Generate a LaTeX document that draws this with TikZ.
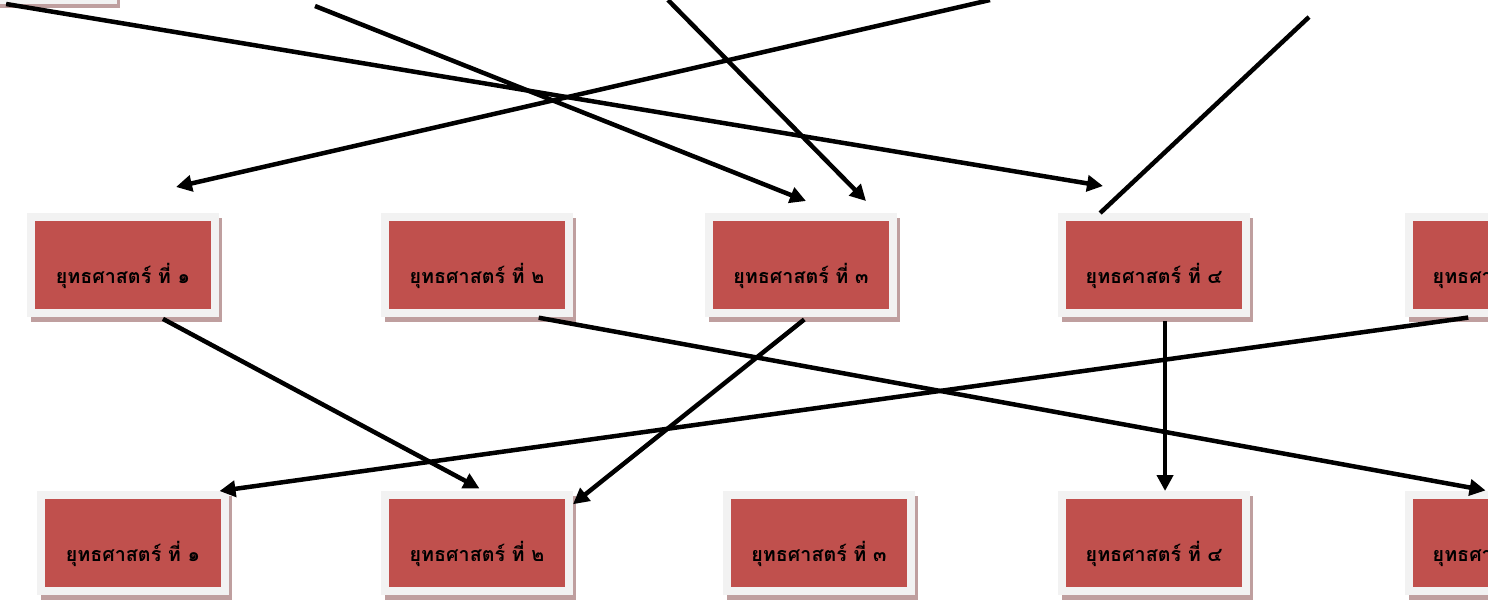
\documentclass[tikz,border=0pt]{standalone}
\usepackage{fontspec}
\newfontfamily\thaifont[Script=Thai]{Loma}
\usetikzlibrary{arrows.meta}
\definecolor{boxred}{HTML}{C0504D}
\definecolor{boxframe}{HTML}{F2F2F2}
\definecolor{boxshadow}{HTML}{BF9F9F}

\begin{document}
\begin{tikzpicture}[x=0.02cm,y=-0.02cm,
  plan/.style={fill=boxred,draw=boxframe,line width=0.16cm,
    minimum width=3.68cm,minimum height=1.92cm,inner sep=0pt,
    text height=0.72cm,text depth=0pt,
    font=\thaifont\bfseries\fontsize{11.2}{13}\selectfont,
    preaction={fill=boxshadow,draw=boxshadow,
      transform canvas={shift={(0.07cm,-0.09cm)}}}},
  wire/.style={line width=0.09cm},
  link/.style={wire,-{Triangle[length=0.32cm,width=0.32cm]}}]
          \clip (0,0) rectangle (1488,600);

          \node[plan] (top) at (21,-48) {};
          \node[plan] (a1) at (123,265) {ยุทธศาสตร์ ที่ ๑};
          \node[plan] (a2) at (477,265) {ยุทธศาสตร์ ที่ ๒};
          \node[plan] (a3) at (801,265) {ยุทธศาสตร์ ที่ ๓};
          \node[plan] (a4) at (1154,265) {ยุทธศาสตร์ ที่ ๔};
          \node[plan] (a5) at (1501,265) {ยุทธศาสตร์ ที่ ๕};

          \node[plan] (b1) at (133,543) {ยุทธศาสตร์ ที่ ๑};
          \node[plan] (b2) at (477,543) {ยุทธศาสตร์ ที่ ๒};
          \node[plan] (b3) at (819,543) {ยุทธศาสตร์ ที่ ๓};
          \node[plan] (b4) at (1154,543) {ยุทธศาสตร์ ที่ ๔};
          \node[plan] (b5) at (1501,543) {ยุทธศาสตร์ ที่ ๕};

          \coordinate (u2) at (315,6);
          \coordinate (u3) at (668,0);
          \coordinate (u4) at (990,0);
          \coordinate (u5) at (1309,17);
          \coordinate (p1) at (1103,186);
          \coordinate (p2) at (806,201);
          \coordinate (p3) at (866,201);
          \coordinate (p4) at (176,187);

          \draw[link] (top.-106) -- (p1);
          \draw[link] (u2) -- (p2);
          \draw[link] (u3) -- (p3);
          \draw[link] (u4) -- (p4);
          \draw[wire] (a4.136) -- (u5);

          \draw[link,shorten <=0.08cm,shorten >=0.11cm] (a1.-55) -- (b2.82);
          \draw[link,shorten <=0.08cm,shorten >=0.07cm] (a2.-42) -- (b5.103);
          \draw[link,shorten <=0.08cm] (a3.-83) -- (b2.22);
          \draw[link,shorten <=0.08cm] (a4.-78) -- (b4.78);
          \draw[link,shorten <=0.08cm] (a5.-119) -- (b1.31);
\end{tikzpicture}
\end{document}
